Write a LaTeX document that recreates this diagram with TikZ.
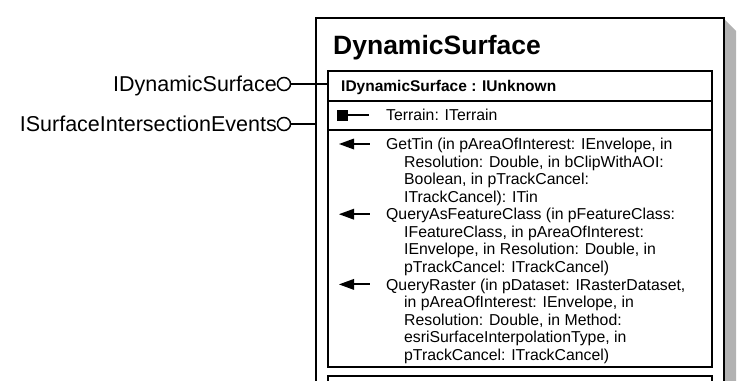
\documentclass[tikz,border=0pt]{standalone}
\usepackage{fontspec}
\setmainfont{Liberation Sans}
\begin{document}
\begin{tikzpicture}[x=1pt,y=-1pt,
  lbl/.style={font=\fontsize{21.5}{24}\selectfont, anchor=base east, inner sep=0pt},
  lolli/.style={circle, draw, line width=1.5pt, minimum size=13pt, inner sep=0pt},
  conn/.style={line width=1.7pt},
  boxline/.style={line width=1.9pt},
  ttl/.style={font=\fontsize{26.5}{30}\selectfont\bfseries, anchor=base west, inner sep=0pt},
  hdr/.style={font=\fontsize{15.5}{17}\selectfont\bfseries, anchor=base west, inner sep=0pt},
  mem/.style={font=\fontsize{15.8}{17.55}\selectfont, anchor=base west, inner sep=0pt},
  arrowicon/.style={line width=2pt}
]
\useasboundingbox (0,0) rectangle (751,380);
\clip (0,0) rectangle (751,380);
% shadow
\fill[black!30] (724,19) -- (736,31) -- (736,390) -- (724,390) -- cycle;
% outer box
\draw[boxline] (316,390) -- (316,18) -- (724,18) -- (724,390);
\node[ttl] (title) at (333,54) {DynamicSurface};
% inner interface box
\draw[boxline] (328,71) rectangle (712,367);
\draw[boxline] (328,101) -- (712,101);
\draw[boxline] (328,130) -- (712,130);
\coordinate (ifA) at (328,84);
\coordinate (ifB) at (316,124);
% next box
\draw[boxline] (328,390) -- (328,376) -- (712,376) -- (712,390);
\node[hdr] (hdr) at (341,91.5) {IDynamicSurface : IUnknown};
% property
\fill (337,109.5) rectangle (348,120.5);
\draw[arrowicon] (347,115) -- (369,115);
\node[mem] (terrain) at (386,120.6) {Terrain: ITerrain};
% methods
\foreach \i/\xx/\t in {
 1/386/{GetTin (in pAreaOfInterest: IEnvelope, in},
 2/404/{Resolution: Double, in bClipWithAOI:},
 3/404/{Boolean, in pTrackCancel:},
 4/404/{ITrackCancel): ITin},
 5/386/{QueryAsFeatureClass (in pFeatureClass:},
 6/404/{IFeatureClass, in pAreaOfInterest:},
 7/404/{IEnvelope, in Resolution: Double, in},
 8/404/{pTrackCancel: ITrackCancel)},
 9/386/{QueryRaster (in pDataset: IRasterDataset,},
 10/404/{in pAreaOfInterest: IEnvelope, in},
 11/404/{Resolution: Double, in Method:},
 12/404/{esriSurfaceInterpolationType, in},
 13/404/{pTrackCancel: ITrackCancel)}}
 {\node[mem] (m\i) at (\xx,{149.6+(\i-1)*17.55}) {\t};}
\foreach \yy in {144,214.2,284.4}{
  \fill (339,\yy) -- (354,\yy-5.5) -- (354,\yy+5.5) -- cycle;
  \draw[arrowicon] (352,\yy) -- (370,\yy);
}
% lollipops
\node[lolli] (cA) at (284,84) {};
\node[lolli] (cB) at (284,124) {};
\node[lbl] (lA) at (277,91.6) {IDynamicSurface};
\node[lbl] (lB) at (277,131.6) {ISurfaceIntersectionEvents};
\draw[conn] (cA) -- (ifA);
\draw[conn] (cB) -- (ifB);
\end{tikzpicture}
\end{document}
